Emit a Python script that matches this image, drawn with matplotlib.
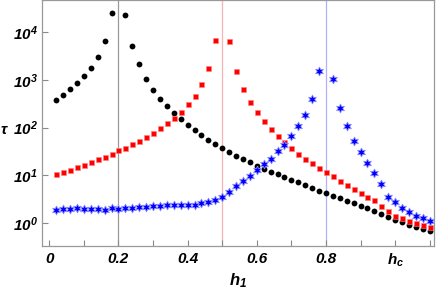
import numpy as np
import matplotlib
matplotlib.use("Agg")
import matplotlib.pyplot as plt

# police gras italique type Mathematica
plt.rcParams['font.family'] = ['Liberation Sans', 'DejaVu Sans']
plt.rcParams['mathtext.fontset'] = 'custom'
plt.rcParams['mathtext.rm'] = 'Liberation Sans:bold:italic'
plt.rcParams['mathtext.it'] = 'Liberation Sans:bold:italic'
plt.rcParams['mathtext.bf'] = 'Liberation Sans:bold:italic'

# grille des h1 (pas de 0.02), on retire le pole de chaque courbe
h_grid = np.round(np.arange(1, 56) * 0.02, 2)
h_pole = [0.2, 0.5, 0.8]

# tau
tau_black = [378, 482, 631, 851, 1190, 1780, 3090, 6460, 25100,
             22900, 5250, 2140, 1060, 617, 403, 282, 200, 148, 112,
             87, 69, 54.6, 45, 36.6, 30.5, 25.6, 21.5, 18.6, 15.5,
             13.6, 11.7, 10.5, 9.25, 7.9, 7.06, 6.19, 5.43, 4.7, 4.27,
             3.69, 3.25, 2.90, 2.59, 2.28, 2.0, 1.76, 1.55, 1.29, 1.15,
             1.03, 0.89, 0.81, 0.73, 0.68]
tau_red = [10.5, 11.6, 13.0, 14.8, 16.6, 18.8, 21.4, 24.4, 28.2, 33.1,
           38, 44.4, 52.5, 63, 78.5, 95.5, 124, 160, 211, 307, 462, 807,
           1790, 6920,
           6460, 1550, 653, 347, 209, 139, 94.4, 67.6, 49, 36.3, 28.2,
           22, 17.8, 14.4, 11.5, 9.4, 7.7, 6.31, 5.1, 4.24, 3.53, 2.95,
           2.24, 1.78, 1.40, 1.24, 1.10, 0.97, 0.90, 0.80]
tau_blue = [1.85, 1.94, 1.97, 2.0, 1.97, 1.91, 1.91, 1.85, 2.0, 1.94,
            2.04, 2.07, 2.10, 2.17, 2.24, 2.24, 2.32, 2.36, 2.32, 2.32,
            2.34, 2.54, 2.72, 3.05, 3.41, 4.47, 5.89, 7.59, 9.7, 13.0,
            16.9, 22.1, 31.6, 43.6, 67.6, 107, 186, 403, 1540,
            1070, 263, 107, 52.8, 29.9, 17.7, 11.2, 6.5, 3.39, 2.68,
            2.07, 1.70, 1.40, 1.24, 1.09]

x_ticks = [0, 0.2, 0.4, 0.6, 0.8, 1.0]
x_labels = ['0', '0.2', '0.4', '0.6', '0.8', '$h_c$']
x_minor = [0.1, 0.3, 0.5, 0.7, 0.9, 1.1]
y_ticks = [1, 10, 100, 1000, 10000]
y_labels = ['$10^{0}$', '$10^{1}$', '$10^{2}$', '$10^{3}$', '$10^{4}$']

h_black = h_grid[h_grid != h_pole[0]]
h_red = h_grid[h_grid != h_pole[1]]
h_blue = h_grid[h_grid != h_pole[2]]

fig = plt.figure(figsize=(4.36, 2.91), dpi=100)
ax = fig.add_axes([0.0956, 0.1546, 0.8994, 0.8437])

# lignes verticales aux poles
ax.axvline(h_pole[0], color='#9a9a9a', lw=0.9, zorder=1)
ax.axvline(h_pole[1], color='#f5b5b5', lw=0.9, zorder=1)
ax.axvline(h_pole[2], color='#b0b0fb', lw=0.9, zorder=1)

ax.plot(h_black, tau_black, ls='none', marker='o', ms=4.2, color='black',
        mec='none', zorder=3)
ax.plot(h_red, tau_red, ls='none', marker='s', ms=3.6, color='#ff0000',
        mec='#ff8080', mew=0.4, zorder=3)
ax.plot(h_blue, tau_blue, ls='none', marker=(6, 1, 0), ms=6.5, color='#0000ff',
        mec='#8c8cff', mew=0.6, zorder=3)

ax.set_yscale('log')
ax.set_xlim(-0.022, 1.112)
ax.set_ylim(0.324, 46600)

ax.set_xticks(x_ticks)
ax.set_xticklabels(x_labels)
ax.set_xticks(x_minor, minor=True)
ax.set_yticks(y_ticks)
ax.set_yticklabels(y_labels)
ax.yaxis.set_minor_locator(matplotlib.ticker.NullLocator())

ax.tick_params(axis='both', which='both', direction='in', length=4,
               width=0.8, color='#888888', labelsize=11, top=False, right=False)
ax.tick_params(axis='x', pad=4)
ax.tick_params(axis='y', pad=3)
for lab in ax.get_xticklabels() + ax.get_yticklabels():
    lab.set_fontweight('bold')
    lab.set_fontstyle('italic')

for s in ax.spines.values():
    s.set_color('#999999')
    s.set_linewidth(0.9)

ax.set_xlabel('$h_1$', fontsize=12, labelpad=2)
ax.set_ylabel(r'$\tau$', fontsize=11, rotation=0)
ax.yaxis.set_label_coords(-0.095, 0.445)

fig.savefig('out.png', dpi=100)
